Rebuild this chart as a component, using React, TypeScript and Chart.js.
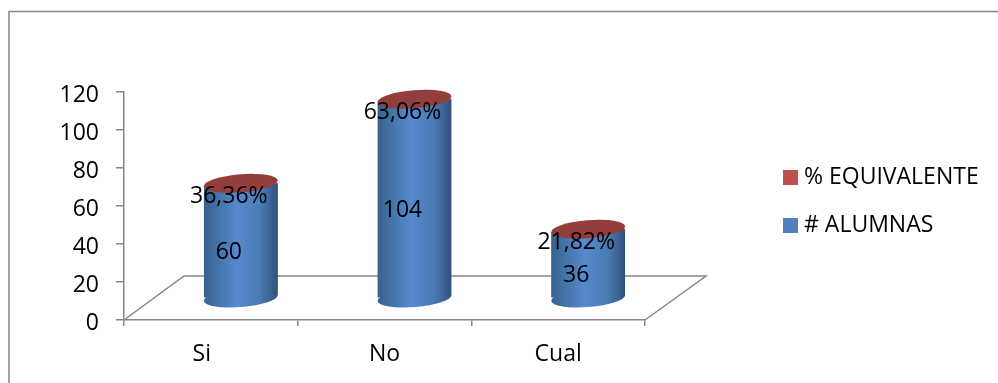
import React, { useEffect, useRef } from "react";
import { Chart, registerables } from "chart.js";

Chart.register(...registerables);

const categories = ["Si", "No", "Cual"];
const alumnas = [60, 104, 36];
const equivalente = [0.3636, 0.6306, 0.2182];
const seriesNames = ["# ALUMNAS", "% EQUIVALENTE"];
const yTicksMax = 120;
const yTicksStep = 20;

const FONT_FAMILY = "'Open Sans', sans-serif";
const GREY = "#868686";
const BLUE = "#4F81BD";
const RED = "#C0504D";
const CAP_RED = "#933E3C";
const DEPTH_X = 60;
const DEPTH_Y = 44;
const TILT = -0.08;
const CAP_RY = 9;
const BAR_WIDTH = 74;
const FIRST_LABEL_SHIFT = -9;

const formatPct = (v: number) => (v * 100).toFixed(2).replace(".", ",") + "%";

function sideGradient(ctx: CanvasRenderingContext2D, cx: number, rx: number) {
  const g = ctx.createLinearGradient(cx - rx, 0, cx + rx, 0);
  g.addColorStop(0, "#39608F");
  g.addColorStop(0.2, "#4574A9");
  g.addColorStop(0.45, "#5689CE");
  g.addColorStop(0.75, "#4A7CB5");
  g.addColorStop(0.92, "#3A6090");
  g.addColorStop(1, "#2F4F78");
  return g;
}

function cap(ctx: CanvasRenderingContext2D, cx: number, cy: number, rx: number, fill: string | CanvasGradient) {
  ctx.beginPath();
  ctx.ellipse(cx, cy, rx, CAP_RY, TILT, 0, Math.PI * 2);
  ctx.fillStyle = fill;
  ctx.fill();
}

// Each column stands on the floor's centre line, half the depth behind the axes.
const cylinders = {
  id: "cylinders",
  beforeDatasetsDraw(chart: any) {
    const { ctx, scales } = chart;
    const { x, y } = scales;
    const y0 = y.getPixelForValue(0);

    ctx.save();
    ctx.strokeStyle = GREY;
    ctx.lineWidth = 1.5;
    ctx.beginPath();
    ctx.moveTo(x.left, y0);
    ctx.lineTo(x.left + DEPTH_X, y0 - DEPTH_Y);
    ctx.lineTo(x.right + DEPTH_X + 1, y0 - DEPTH_Y);
    ctx.lineTo(x.right, y0);
    ctx.stroke();
    ctx.restore();

    const base = chart.getDatasetMeta(0).data;
    const top = chart.getDatasetMeta(1).data;
    ctx.save();
    ctx.translate(DEPTH_X / 2, -DEPTH_Y / 2);
    base.forEach((bar: any) => {
      const rx = bar.width / 2;
      cap(ctx, bar.x, y0, rx, sideGradient(ctx, bar.x, rx));
    });
    ctx.beginPath();
    base.forEach((bar: any, i: number) => {
      const rx = bar.width / 2;
      const dy = Math.sin(-TILT) * rx;
      const yTop = top[i].y;
      ctx.moveTo(bar.x - rx, yTop + dy);
      ctx.lineTo(bar.x + rx, yTop - dy);
      ctx.lineTo(bar.x + rx, y0 - dy);
      ctx.lineTo(bar.x - rx, y0 + dy);
      ctx.closePath();
    });
    ctx.clip();
  },
  afterDatasetsDraw(chart: any) {
    const { ctx } = chart;
    ctx.restore();

    const base = chart.getDatasetMeta(0).data;
    const top = chart.getDatasetMeta(1).data;
    ctx.save();
    ctx.translate(DEPTH_X / 2, -DEPTH_Y / 2);
    top.forEach((bar: any) => cap(ctx, bar.x, bar.y, bar.width / 2, CAP_RED));
    ctx.restore();

    // Value labels sit in the middle of each stacked segment, a little left of the column axis.
    ctx.save();
    ctx.font = `23px ${FONT_FAMILY}`;
    ctx.fillStyle = "#000";
    ctx.textAlign = "center";
    ctx.textBaseline = "middle";
    base.forEach((bar: any, i: number) => {
      ctx.fillText(String(alumnas[i]), bar.x + 18, (bar.y + bar.base) / 2 - 10);
    });
    top.forEach((bar: any, i: number) => {
      ctx.fillText(formatPct(equivalente[i]), bar.x + 18, bar.y - 9);
    });
    ctx.restore();
  },
};

// "Si" sits slightly left of its category centre.
const labelNudge = {
  id: "labelNudge",
  afterLayout(chart: any) {
    const items = chart.scales.x.getLabelItems();
    items[0].options.translation[0] += FIRST_LABEL_SHIFT;
  },
};

// Key to the right of the plot: the top series is listed first.
const sideLegend = {
  id: "sideLegend",
  afterDraw(chart: any) {
    const { ctx } = chart;
    const rows = [
      { text: seriesNames[1], color: RED, y: 177.5 },
      { text: seriesNames[0], color: BLUE, y: 225.5 },
    ];
    ctx.save();
    ctx.font = `23px ${FONT_FAMILY}`;
    ctx.textAlign = "left";
    ctx.textBaseline = "middle";
    rows.forEach((row) => {
      ctx.fillStyle = row.color;
      ctx.fillRect(783, row.y - 7.5, 15, 15);
      ctx.fillStyle = "#000";
      ctx.fillText(row.text, 804, row.y);
    });
    ctx.restore();
  },
};

// Outer edge of the chart area: only the top and left sides show in the frame.
const frame = {
  id: "frame",
  beforeDraw(chart: any) {
    const { ctx, height, width } = chart;
    ctx.save();
    ctx.strokeStyle = GREY;
    ctx.lineWidth = 1.5;
    ctx.beginPath();
    ctx.moveTo(9, height);
    ctx.lineTo(9, 11.5);
    ctx.lineTo(width, 11.5);
    ctx.stroke();
    ctx.restore();
  },
};

export default function App() {
  const ref = useRef<HTMLCanvasElement>(null);

  useEffect(() => {
    const barFill = (context: any) => {
      const chart = context.chart;
      const scale = chart.scales.x;
      const cx = scale && context.dataIndex !== undefined ? scale.getPixelForValue(context.dataIndex) : NaN;
      return Number.isFinite(cx) ? sideGradient(chart.ctx, cx, BAR_WIDTH / 2) : BLUE;
    };

    const chart = new Chart(ref.current!, {
      type: "bar",
      data: {
        labels: categories,
        datasets: [
          { label: seriesNames[0], data: alumnas, backgroundColor: barFill, barThickness: BAR_WIDTH, clip: false } as any,
          { label: seriesNames[1], data: equivalente, backgroundColor: RED, barThickness: BAR_WIDTH, clip: false } as any,
        ],
      },
      plugins: [frame, labelNudge, cylinders, sideLegend],
      options: {
        animation: false,
        responsive: false,
        layout: { padding: { top: 92, right: 353, left: 0, bottom: 0 } },
        plugins: {
          tooltip: { enabled: false },
          title: { display: false },
          legend: { display: false },
        },
        scales: {
          x: {
            stacked: true,
            afterFit: (s: any) => { s.height = 63; },
            grid: { drawOnChartArea: false, drawTicks: true, tickLength: 6, color: GREY, lineWidth: 1.5 },
            border: { color: GREY, width: 1.5 },
            ticks: { color: "#000", padding: 15, font: { family: FONT_FAMILY, size: 23 }, maxRotation: 0 },
          },
          y: {
            stacked: true,
            min: 0,
            max: yTicksMax,
            afterFit: (s: any) => { s.width = 124; },
            grid: { drawOnChartArea: false, drawTicks: true, tickLength: 8, color: GREY, lineWidth: 1.5 },
            border: { color: GREY, width: 1.5 },
            ticks: { stepSize: yTicksStep, color: "#000", padding: 17, labelOffset: 3, font: { family: FONT_FAMILY, size: 23 } },
          },
        },
      } as any,
    });
    return () => chart.destroy();
  }, []);

  return (
    <div style={{ position: "fixed", left: 0, top: 0, width: 998, height: 383, background: "#fff" }}>
      <canvas ref={ref} width={998} height={383} style={{ display: "block" }} />
    </div>
  );
}
